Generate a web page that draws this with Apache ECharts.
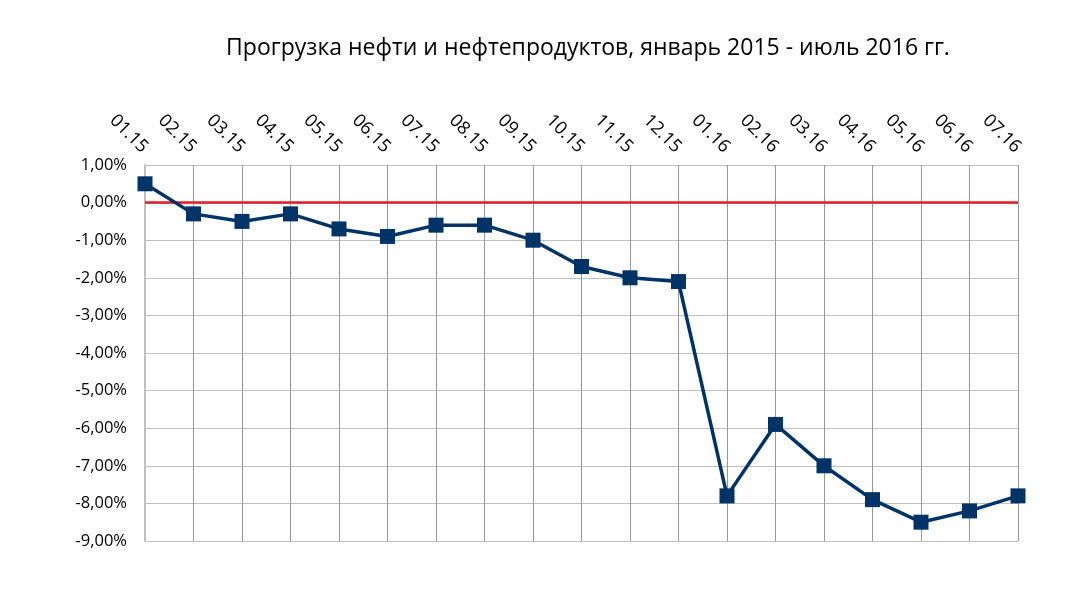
<!DOCTYPE html>
<html><head><meta charset="utf-8">
<script src="https://cdn.jsdelivr.net/npm/echarts@6/dist/echarts.min.js"></script>
<style>html,body{margin:0;padding:0;background:#fff}#c{width:1073px;height:599px}</style>
</head><body><div id="c"></div>
<script>
const categories = ['01.15','02.15','03.15','04.15','05.15','06.15','07.15','08.15','09.15','10.15','11.15','12.15','01.16','02.16','03.16','04.16','05.16','06.16','07.16'];
const values = [0.5,-0.3,-0.5,-0.3,-0.7,-0.9,-0.6,-0.6,-1.0,-1.7,-2.0,-2.1,-7.8,-5.9,-7.0,-7.9,-8.5,-8.2,-7.8];
const titleText = 'Прогрузка нефти и нефтепродуктов, январь 2015 - июль 2016 гг.';
const yMin = -9, yMax = 1, yStep = 1;

const chart = echarts.init(document.getElementById('c'));
chart.setOption({
  animation: false,
  title: { text: titleText, left: 583, top: 32, textAlign: 'center',
    textStyle: { fontFamily: 'Open Sans', fontSize: 23, fontWeight: 'normal', color: '#000' } },
  grid: { left: 145, right: 55, top: 165, bottom: 58 },
  xAxis: {
    type: 'category', data: categories, position: 'top', boundaryGap: false,
    axisLine: { lineStyle: { color: '#bfbfbf', width: 2 } },
    axisTick: { show: false },
    axisLabel: { rotate: -45, interval: 0, margin: 15, fontFamily: 'Open Sans', fontSize: 18, color: '#000' },
    splitLine: { show: true, lineStyle: { color: '#969696', width: 1 } }
  },
  yAxis: {
    type: 'value', min: yMin, max: yMax, interval: yStep,
    axisLine: { show: true, lineStyle: { color: '#bfbfbf', width: 2 } },
    axisTick: { show: false },
    axisLabel: { margin: 18, fontFamily: 'Open Sans', fontSize: 16.5, color: '#000',
      formatter: v => v.toFixed(2).replace('.', ',') + '%' },
    splitLine: { lineStyle: { color: '#bfbfbf', width: 1 } }
  },
  series: [{
    type: 'line', data: values,
    lineStyle: { color: '#003366', width: 3.5 },
    itemStyle: { color: '#003366' },
    symbol: 'rect', symbolSize: 15, z: 5,
    markLine: {
      silent: true, symbol: 'none', label: { show: false },
      lineStyle: { color: '#e41e26', width: 2.5, type: 'solid' },
      data: [{ yAxis: 0 }], z: 3
    }
  }]
});
</script></body></html>
